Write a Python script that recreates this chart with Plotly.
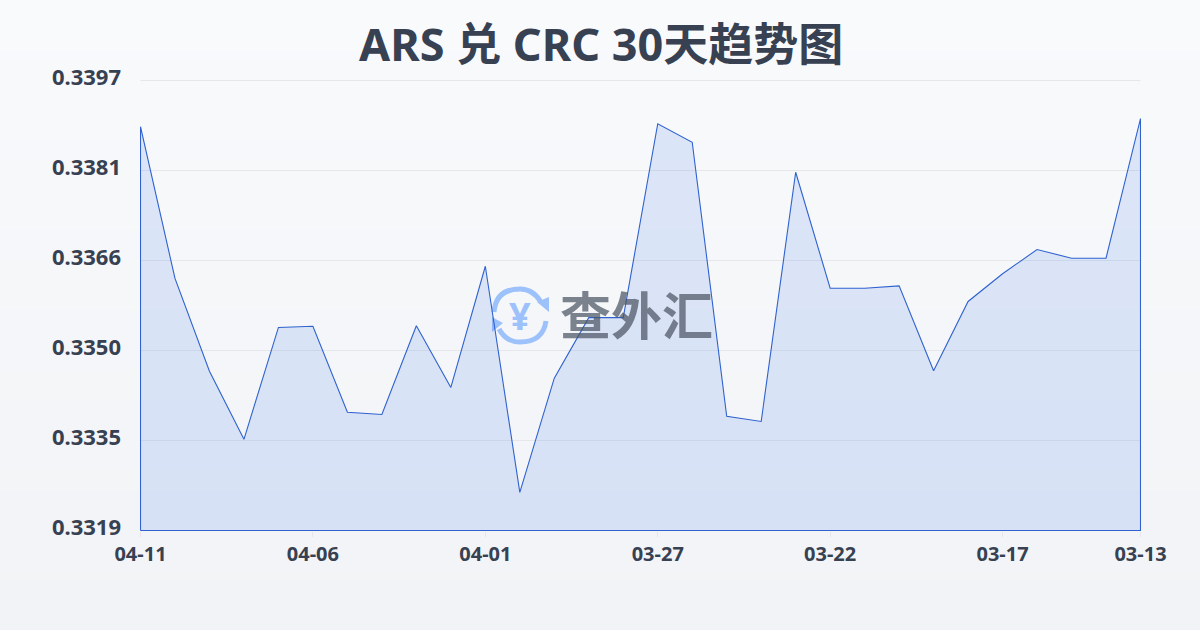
import plotly.graph_objects as go

dates = ["04-11","04-10","04-09","04-08","04-07","04-06","04-05","04-04","04-03","04-02",
         "04-01","03-31","03-30","03-29","03-28","03-27","03-26","03-25","03-24","03-23",
         "03-22","03-21","03-20","03-19","03-18","03-17","03-16","03-15","03-14","03-13"]
rates = [0.33890,0.33627,0.33466,0.33348,0.33542,0.33544,0.33395,0.33391,0.33545,0.33438,
         0.33648,0.33256,0.33454,0.33559,0.33559,0.33895,0.33863,0.33388,0.33379,0.33811,
         0.33610,0.33610,0.33614,0.33467,0.33587,0.33635,0.33677,0.33662,0.33662,0.33904]
y_ticks = [0.3319,0.33346,0.33502,0.33658,0.33814,0.3397]
y_labels = ["0.3319","0.3335","0.3350","0.3366","0.3381","0.3397"]
x_ticks = ["04-11","04-06","04-01","03-27","03-22","03-17","03-13"]
title = "ARS 兑 CRC 30天趋势图"
brand = "查外汇"

FONT = "'Noto Sans','Noto Sans CJK SC',sans-serif"
INK = "#374151"
# The plot box is one pixel larger than the data span so the outline lands on pixel centres.
L, T, W, H = 140, 80, 1001, 451
def px(x): return (x - L) / W
def py(y): return (T + H - y) / H

n = len(rates)
idx = list(range(n))
tick_idx = [dates.index(d) for d in x_ticks]
base = y_ticks[0]
x_pad = 0.5 * (n - 1) / (W - 1)
y_pad = 0.5 * (y_ticks[-1] - y_ticks[0]) / (H - 1)

fig = go.Figure()
fig.add_trace(go.Scatter(
    x=[idx[0]] + idx + [idx[-1], idx[0]],
    y=[base] + rates + [base, base],
    mode="lines", fill="toself", fillcolor="rgba(37,99,235,0.13)", cliponaxis=False,
    line=dict(color="#2f62cf", width=1.1), hoverinfo="skip", showlegend=False))

shapes = []
# page background gradient as thin bands
top, bot = (248, 250, 252), (241, 243, 246)
bands = 63
for i in range(bands):
    t = i / (bands - 1)
    c = tuple(round(a + (b - a) * t) for a, b in zip(top, bot))
    shapes.append(dict(type="rect", xref="paper", yref="paper", layer="below",
                       x0=px(0), x1=px(1200), y0=py(i * 10), y1=py((i + 1) * 10),
                       fillcolor="rgb(%d,%d,%d)" % c, line_width=0))
# top gridline, which plotly drops at the edge of the plot box
shapes.append(dict(type="line", xref="x", yref="y", layer="below",
                   x0=idx[0], x1=idx[-1], y0=y_ticks[-1], y1=y_ticks[-1],
                   line=dict(color="#e5e7eb", width=1)))

def p(x, y): return "%.5f %.5f" % (px(x), py(y))
logo = "#9dc1fb"
# circular arrows of the logo
shapes.append(dict(type="path", xref="paper", yref="paper", layer="below", line=dict(color=logo, width=5),
    path="M %s Q %s %s Q %s %s" % (p(494,312), p(496,289), p(520,289), p(533,289), p(541,302))))
shapes.append(dict(type="path", xref="paper", yref="paper", layer="below", line_width=0, fillcolor=logo,
    path="M %s L %s L %s Z" % (p(537,302), p(549,297), p(549,312))))
shapes.append(dict(type="path", xref="paper", yref="paper", layer="below", line=dict(color=logo, width=5),
    path="M %s Q %s %s Q %s %s" % (p(546,321), p(543,342), p(520,342), p(506,342), p(499,329))))
shapes.append(dict(type="path", xref="paper", yref="paper", layer="below", line_width=0, fillcolor=logo,
    path="M %s L %s L %s Z" % (p(492,317), p(503,323), p(492,332))))

fig.update_layout(
    width=1200, height=630, autosize=False,
    margin=dict(l=L, r=1200 - L - W, t=T, b=630 - T - H),
    paper_bgcolor="#f8fafc", plot_bgcolor="rgba(0,0,0,0)",
    font=dict(family=FONT, color=INK),
    showlegend=False, shapes=shapes,
    xaxis=dict(range=[-x_pad, n - 1 + x_pad], tickmode="array", tickvals=tick_idx, ticktext=x_ticks,
               showgrid=False, zeroline=False, showline=False,
               ticks="outside", ticklen=5, tickcolor="#e5e7eb", tickwidth=1,
               ticklabelstandoff=0,
               tickfont=dict(size=20, family=FONT, color=INK, weight=700)),
    yaxis=dict(range=[y_ticks[0] - y_pad, y_ticks[-1] + y_pad], tickmode="array", tickvals=y_ticks, ticktext=y_labels,
               showgrid=True, gridcolor="#e5e7eb", gridwidth=1, zeroline=False, showline=False,
               ticks="", ticklabelstandoff=18, ticklabelshift=-3,
               tickfont=dict(size=22, family=FONT, color=INK, weight=700)),
    annotations=[
        dict(text=title, xref="paper", yref="paper", x=px(600.5), y=py(44), xanchor="center", yanchor="middle",
             showarrow=False, font=dict(size=45, family=FONT, color=INK, weight=700)),
        dict(text=brand, xref="paper", yref="paper", x=px(636), y=py(313), xanchor="center", yanchor="middle",
             showarrow=False, font=dict(size=51, family="'Noto Sans CJK SC',sans-serif", color="rgba(75,85,99,0.72)", weight=700)),
        dict(text="¥", xref="paper", yref="paper", x=px(520), y=py(315), xanchor="center", yanchor="middle",
             showarrow=False, font=dict(size=38, family=FONT, color=logo, weight=700)),
    ],
)
fig.write_html("out.html", config=dict(displayModeBar=False),
               post_script="document.body.style.margin='0';")
